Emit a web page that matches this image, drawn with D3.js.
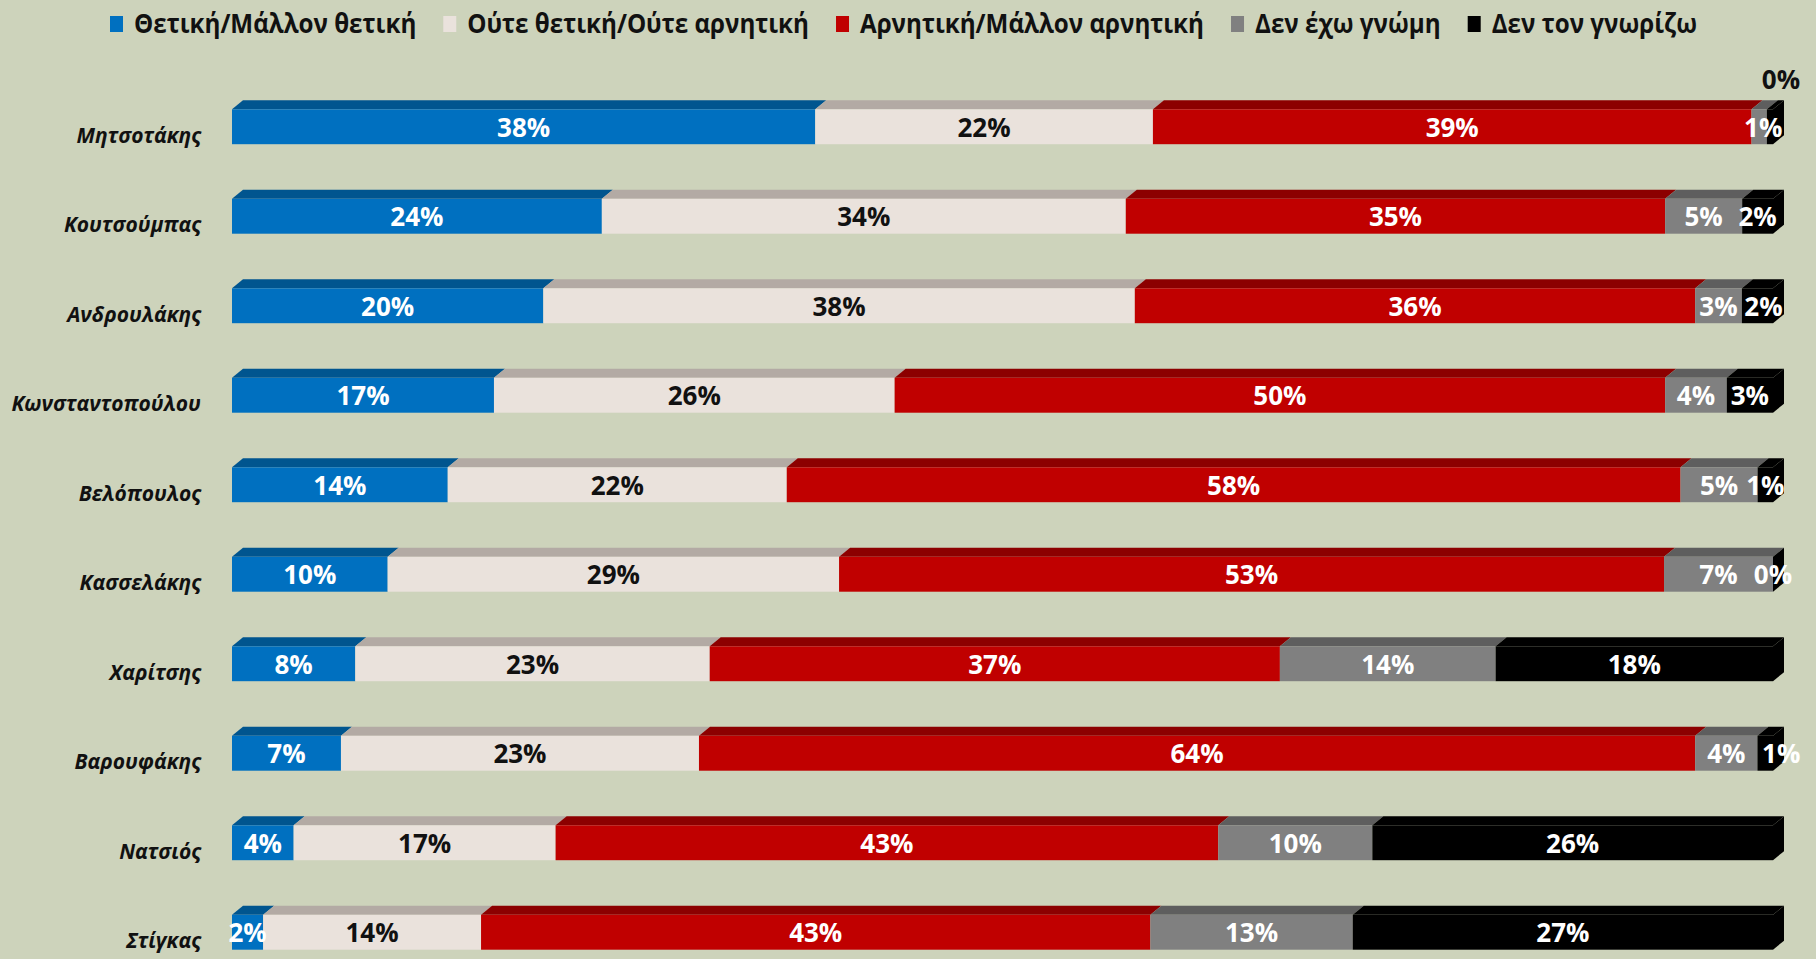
<!DOCTYPE html>
<html>
<head>
<meta charset="utf-8">
<script src="https://d3js.org/d3.v7.min.js"></script>
<style>
  body { margin: 0; background: #cdd3bb; }
  svg { display: block; font-family: "Open Sans", sans-serif; }
  .row-label { font-size: 21px; font-weight: bold; font-style: italic; text-anchor: end; fill: #111; }
  .val { font-size: 26px; font-weight: bold; text-anchor: middle; dominant-baseline: central; }
  .legend text { font-size: 26px; font-weight: bold; fill: #111; }
</style>
</head>
<body>
<svg id="chart" width="1816" height="959"></svg>
<script>
  // data
  var politicians = ["Μητσοτάκης", "Κουτσούμπας", "Ανδρουλάκης", "Κωνσταντοπούλου", "Βελόπουλος",
                     "Κασσελάκης", "Χαρίτσης", "Βαρουφάκης", "Νατσιός", "Στίγκας"];
  var series = ["Θετική/Μάλλον θετική", "Ούτε θετική/Ούτε αρνητική", "Αρνητική/Μάλλον αρνητική",
                "Δεν έχω γνώμη", "Δεν τον γνωρίζω"];
  var positive = [38, 24, 20, 17, 14, 10, 8, 7, 4, 2];
  var neutral  = [22, 34, 38, 26, 22, 29, 23, 23, 17, 14];
  var negative = [39, 35, 36, 50, 58, 53, 37, 64, 43, 43];
  var noOpinion = [1, 5, 3, 4, 5, 7, 14, 4, 10, 13];
  var unknown  = [0.4, 2, 2, 3, 1, 0, 18, 1, 26, 27];

  var frontColors = ["#0070c0", "#eae2dc", "#c00000", "#808080", "#000000"];
  var topColors   = ["#00558f", "#b3aaa4", "#8c0000", "#5e5e5e", "#000000"];
  var textColors  = ["#fff", "#111", "#fff", "#fff", "#fff"];

  var allSeries = [positive, neutral, negative, noOpinion, unknown];
  var rows = politicians.map(function(name, i) {
    var r = { name: name };
    series.forEach(function(s, j) { r[s] = allSeries[j][i]; });
    return r;
  });

  var svg = d3.select("#chart");
  var dx = 11, dy = 9;

  var x = d3.scaleLinear().domain([0, 1]).range([232, 1773]);
  var y = d3.scaleBand().domain(politicians).range([82, 977])
      .paddingInner(0.61).paddingOuter(0.305);

  var stacked = d3.stack().keys(series).offset(d3.stackOffsetExpand)(rows);

  var layers = svg.selectAll("g.layer")
    .data(stacked)
    .enter().append("g")
      .attr("class", "layer");

  // top face of each segment
  layers.selectAll("polygon.top")
    .data(function(d) { return d.map(function(p) { return { p: p, k: d.index }; }); })
    .enter().append("polygon")
      .attr("class", "top")
      .attr("fill", function(d) { return topColors[d.k]; })
      .attr("points", function(d) {
        var x0 = x(d.p[0]), x1 = x(d.p[1]), y0 = y(d.p.data.name);
        if (x1 - x0 <= 0) return "";
        return [[x0, y0], [x0 + dx, y0 - dy], [x1 + dx, y0 - dy], [x1, y0]].join(" ");
      });

  // front faces
  layers.selectAll("rect")
    .data(function(d) { return d.map(function(p) { return { p: p, k: d.index }; }); })
    .enter().append("rect")
      .attr("x", function(d) { return x(d.p[0]); })
      .attr("y", function(d) { return y(d.p.data.name); })
      .attr("width", function(d) { return Math.max(0, x(d.p[1]) - x(d.p[0])); })
      .attr("height", y.bandwidth())
      .attr("fill", function(d) { return frontColors[d.k]; });

  // right side face of the last (black) segment
  var last = stacked[stacked.length - 1];
  svg.selectAll("polygon.side")
    .data(last)
    .enter().append("polygon")
      .attr("class", "side")
      .attr("fill", frontColors[4])
      .attr("points", function(d) {
        var x1 = x(d[1]), y0 = y(d.data.name), y1 = y0 + y.bandwidth();
        return [[x1, y0], [x1 + dx, y0 - dy], [x1 + dx, y1 - dy], [x1, y1]].join(" ");
      });

  // category labels
  svg.selectAll("text.row-label")
    .data(politicians)
    .enter().append("text")
      .attr("class", "row-label")
      .attr("x", 201)
      .attr("y", function(d) { return y(d) + y.bandwidth() / 2 + 16; })
      .text(function(d) { return d; });

  // value labels (a couple were moved by hand in the original)
  var nudge = { "Βαρουφάκης": 16, "Ανδρουλάκης": 6, "Μητσοτάκης": 4 };
  stacked.forEach(function(layer, k) {
    svg.selectAll("text.val-" + k)
      .data(layer)
      .enter().append("text")
        .attr("class", "val val-" + k)
        .attr("fill", function(d, i) { return (i === 0 && k === 4) ? "#111" : textColors[k]; })
        .attr("x", function(d, i) {
          if (i === 0 && k === 4) return x(d[1]) + 8;
          var mid = (x(d[0]) + x(d[1])) / 2;
          if (k === 4 || (k === 3 && i === 0)) return mid + (nudge[d.data.name] || 0);
          return mid;
        })
        .attr("y", function(d, i) {
          var c = y(d.data.name) + y.bandwidth() / 2;
          return (i === 0 && k === 4) ? c - 48 : c;
        })
        .text(function(d) { return Math.round(d.data[series[k]]) + "%"; });
  });

  // legend
  var legend = svg.append("g").attr("class", "legend");
  var items = series.map(function(s, i) {
    var g = legend.append("g");
    var r = g.append("rect").attr("y", 16).attr("width", 13).attr("height", 16).attr("fill", frontColors[i]);
    var t = g.append("text").attr("y", 33).text(s);
    return { r: r, t: t, w: t.node().getComputedTextLength() };
  });
  var sumW = d3.sum(items, function(d) { return d.w; });
  var k = (1697 - 110 - 5 * 24 - 4 * 27) / sumW;
  var lx = 110;
  items.forEach(function(it) {
    var w = it.w * k;
    it.r.attr("x", lx);
    it.t.attr("x", lx + 24).attr("textLength", w).attr("lengthAdjust", "spacingAndGlyphs");
    lx += 24 + w + 27;
  });
</script>
</body>
</html>
